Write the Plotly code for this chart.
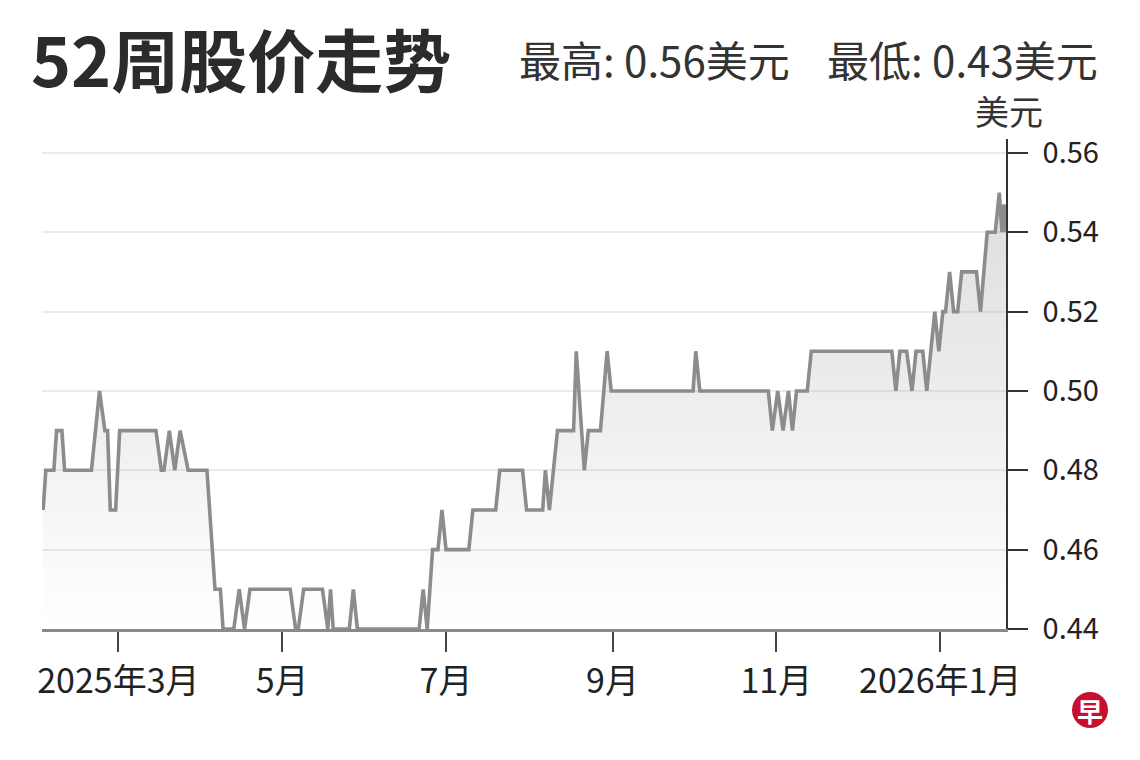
import plotly.graph_objects as go

# ---- data ----
dates = [
    "2025-02-01", "2025-02-02", "2025-02-05", "2025-02-06", "2025-02-08", "2025-02-09",
    "2025-02-19", "2025-02-22", "2025-02-24", "2025-02-25", "2025-02-26", "2025-02-28",
    "2025-03-01 12:00", "2025-03-15", "2025-03-17", "2025-03-18", "2025-03-20", "2025-03-22",
    "2025-03-24", "2025-03-27", "2025-04-03", "2025-04-06", "2025-04-08", "2025-04-09",
    "2025-04-13", "2025-04-15", "2025-04-17", "2025-04-19", "2025-05-04", "2025-05-06",
    "2025-05-07", "2025-05-09", "2025-05-16", "2025-05-18", "2025-05-19", "2025-05-20",
    "2025-05-26", "2025-05-27 12:00", "2025-05-29", "2025-06-21", "2025-06-22 12:00", "2025-06-24",
    "2025-06-26", "2025-06-28", "2025-06-29 12:00", "2025-07-01", "2025-07-09 12:00", "2025-07-11",
    "2025-07-19 12:00", "2025-07-21", "2025-07-29 12:00", "2025-07-31", "2025-08-06", "2025-08-07",
    "2025-08-08 12:00", "2025-08-11 12:00", "2025-08-17 12:00", "2025-08-18 12:00", "2025-08-21 12:00", "2025-08-23",
    "2025-08-27 12:00", "2025-08-30", "2025-08-31 12:00", "2025-10-01", "2025-10-02", "2025-10-03 12:00",
    "2025-10-29", "2025-10-30 12:00", "2025-11-01 12:00", "2025-11-03 12:00", "2025-11-05 12:00", "2025-11-07",
    "2025-11-08 12:00", "2025-11-12 12:00", "2025-11-14", "2025-12-14", "2025-12-15 12:00", "2025-12-17",
    "2025-12-19 12:00", "2025-12-21 12:00", "2025-12-23", "2025-12-25 12:00", "2025-12-27", "2025-12-30",
    "2025-12-31 12:00", "2026-01-02", "2026-01-03", "2026-01-04 12:00", "2026-01-06", "2026-01-07 12:00",
    "2026-01-09", "2026-01-14 12:00", "2026-01-16", "2026-01-18 12:00", "2026-01-21 12:00", "2026-01-23",
    "2026-01-24", "2026-01-24 18:00", "2026-01-25 12:00",
]
prices = [
    0.47, 0.48, 0.48, 0.49, 0.49, 0.48,
    0.48, 0.50, 0.49, 0.49, 0.47, 0.47,
    0.49, 0.49, 0.48, 0.48, 0.49, 0.48,
    0.49, 0.48, 0.48, 0.45, 0.45, 0.44,
    0.44, 0.45, 0.44, 0.45, 0.45, 0.44,
    0.44, 0.45, 0.45, 0.44, 0.45, 0.44,
    0.44, 0.45, 0.44, 0.44, 0.45, 0.44,
    0.46, 0.46, 0.47, 0.46, 0.46, 0.47,
    0.47, 0.48, 0.48, 0.47, 0.47, 0.48,
    0.47, 0.49, 0.49, 0.51, 0.48, 0.49,
    0.49, 0.51, 0.50, 0.50, 0.51, 0.50,
    0.50, 0.49, 0.50, 0.49, 0.50, 0.49,
    0.50, 0.50, 0.51, 0.51, 0.50, 0.51,
    0.51, 0.50, 0.51, 0.51, 0.50, 0.52,
    0.51, 0.52, 0.52, 0.53, 0.52, 0.52,
    0.53, 0.53, 0.52, 0.54, 0.54, 0.55,
    0.54, 0.547, 0.54,
]

tick_dates = ["2025-03-01", "2025-05-01", "2025-07-01", "2025-09-01", "2025-11-01", "2026-01-01"]
tick_labels = ["2025年3月", "5月", "7月", "9月", "11月", "2026年1月"]
y_ticks = [0.44, 0.46, 0.48, 0.50, 0.52, 0.54, 0.56]

title_text = "52周股价走势"
high_text = "最高: 0.56美元"
low_text = "最低: 0.43美元"
unit_text = "美元"

FONT = "Noto Sans CJK SC"

# page has an 8px body margin; plot area spans page x 42..1006, y 139..629
PX0, PY0, PW, PH = 42, 139, 964, 490


def px(x):
    return (x - PX0) / PW


def py(y):
    return 1 - (y - PY0) / PH


fig = go.Figure()
fig.add_trace(go.Scatter(
    x=dates, y=prices, mode="lines",
    line=dict(color="#8c8c8c", width=3.6),
    fill="tozeroy",
    fillgradient=dict(
        type="vertical",
        start=0.44, stop=0.5635,
        colorscale=[[0, "rgba(150,150,150,0)"], [1, "rgba(150,150,150,0.36)"]],
    ),
    hoverinfo="skip",
))

fig.update_layout(
    width=1132, height=752,
    margin=dict(l=34, r=134, t=131, b=131),
    paper_bgcolor="white", plot_bgcolor="white",
    showlegend=False,
    font=dict(family=FONT, color="#333333"),
    xaxis=dict(
        type="date",
        range=["2025-01-31 14:00", "2026-01-25 12:00"],
        tickvals=tick_dates, ticktext=tick_labels,
        showgrid=False, zeroline=False,
        showline=True, linecolor="#8a8a8a", linewidth=2.5,
        ticks="outside", ticklen=20, tickwidth=1.5, tickcolor="#444444",
        tickfont=dict(family=FONT, size=34, color="#222222"),
        ticklabelstandoff=0,
    ),
    yaxis=dict(
        side="right",
        range=[0.44, 0.5635],
        tickvals=y_ticks, ticktext=[f"{v:.2f}" for v in y_ticks],
        showgrid=True, gridcolor="#ebebeb", gridwidth=2,
        zeroline=False,
        showline=True, linecolor="#333333", linewidth=1.5,
        ticks="outside", ticklen=20, tickwidth=1.5, tickcolor="#333333",
        tickfont=dict(family=FONT, size=29, color="#222222"),
        ticklabelstandoff=9,
    ),
)

fig.add_annotation(text=f"<b>{title_text}</b>", xref="paper", yref="paper",
                   x=px(29), y=py(57), xanchor="left", yanchor="middle",
                   showarrow=False, font=dict(family=FONT, size=68, color="#2b2b2b"))
fig.add_annotation(text=high_text, xref="paper", yref="paper",
                   x=px(517), y=py(58), xanchor="left", yanchor="middle",
                   showarrow=False, font=dict(family=FONT, size=42, color="#333333"))
fig.add_annotation(text=low_text, xref="paper", yref="paper",
                   x=px(1100), y=py(58), xanchor="right", yanchor="middle",
                   showarrow=False, font=dict(family=FONT, size=42, color="#333333"))
fig.add_annotation(text=unit_text, xref="paper", yref="paper",
                   x=px(1045), y=py(111), xanchor="right", yanchor="middle",
                   showarrow=False, font=dict(family=FONT, size=34, color="#333333"))

# logo
fig.add_shape(type="circle", xref="paper", yref="paper",
              x0=px(1072), x1=px(1108), y0=py(692), y1=py(728),
              fillcolor="#c8102e", line=dict(width=0))
fig.add_annotation(text="<b>早</b>", xref="paper", yref="paper",
                   x=px(1090), y=py(710), xanchor="center", yanchor="middle",
                   showarrow=False, font=dict(family=FONT, size=26, color="white"))

fig.write_html("out.html")
